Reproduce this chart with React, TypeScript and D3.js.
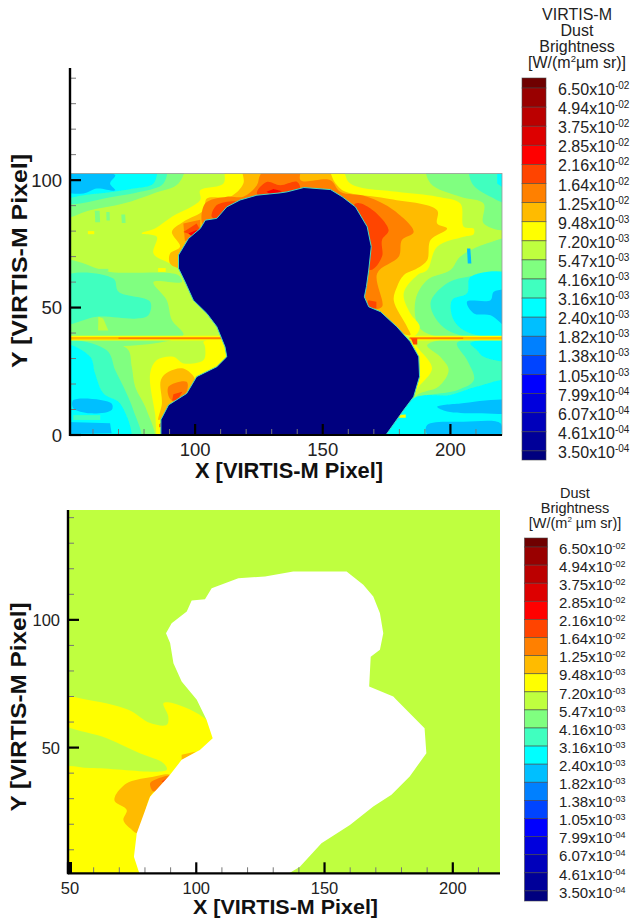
import * as d3 from "d3";

type Pt = [number, number];

const levelLabels = ["6.50", "4.94", "3.75", "2.85", "2.16", "1.64", "1.25", "9.48", "7.20", "5.47", "4.16", "3.16", "2.40", "1.82", "1.38", "1.05", "7.99", "6.07", "4.61", "3.50"];
const levelExps = ["-02", "-02", "-02", "-02", "-02", "-02", "-02", "-03", "-03", "-03", "-03", "-03", "-03", "-03", "-03", "-03", "-04", "-04", "-04", "-04"];
const bandColors = ["#6f0000", "#990000", "#bb0000", "#dd0000", "#ff0000", "#ff4400", "#ff8000", "#ffbb00", "#ffff00", "#bfff3f", "#80ff80", "#40ffbf", "#00ffff", "#00bfff", "#0080ff", "#0044ff", "#0000ff", "#0000dd", "#0000bb", "#000099", "#00007f"];

// contour regions, painted in this order, in VIRTIS-M pixel units
const topLightGreen: Pt[][] = [
  [[48, 106], [95.4, 106], [93.5, 98.7], [83.7, 94.8], [71.9, 90.8], [58.9, 88.2], [48, 85.6]],
  [[48, 68], [66.7, 64], [93.5, 62.7], [94.8, 60], [83.7, 60], [88.9, 52.9], [90.9, 45.1], [95.4, 39.2], [48, 38.6]],
  [[48, 36.6], [73.2, 34], [75.2, 26.8], [76.5, 19], [81, 9.8], [83.7, -3], [48, -3]],
  [[190.9, 106], [192.2, 98.7], [203.9, 93.5], [213, 90.8], [213, 83], [224, 81], [224, 106]],
  [[224, 76.5], [214.4, 75.2], [203.9, 70], [200, 64.7], [190.9, 60.8], [186.3, 52.9], [187.6, 42.5], [194.8, 38.6], [224, 38.6]],
  [[190.9, 35.3], [196, 30.7], [199.3, 25.5], [195.4, 19], [187, 15.7], [184.3, 11.1], [224, 11.1], [224, 36.6]],
  [[60.7, 88], [62.6, 88], [62.8, 83.5], [60.9, 83.5]],
  [[65.2, 87.5], [66.5, 87.5], [66.6, 84.2], [65.3, 84.2]],
  [[71.1, 86.5], [72.6, 86.5], [72.8, 83.2], [71.3, 83.2]],
  [[58, 65.2], [66, 65.2], [66, 64.2], [58, 64.2]],
];
const topGreenPatch: Pt[][] = [
  [[62.1, 46.4], [64, 45.7], [66, 41], [62, 41]],
];
const topMint: Pt[][] = [
  [[48, 106], [88.3, 106], [87.6, 98.7], [78.5, 95.4], [68, 93.5], [48, 91.5]],
  [[48, 62], [68, 61.4], [70, 56.2], [82.4, 52.3], [81.7, 47], [77.2, 45.7], [61.5, 46.4], [48, 43.8]],
  [[48, 36], [65.4, 33.3], [68.7, 25.5], [71.9, 19], [75.8, 9.8], [78.5, -3], [48, -3]],
  [[207.8, 106], [208.5, 98.7], [215.7, 93.5], [224, 90.8], [224, 106]],
  [[224, 62.7], [206.5, 62], [198.7, 59.5], [192.2, 51.6], [198.7, 41.2], [224, 39.2]],
  [[202.6, 36.2], [224, 36.2], [224, 11.1], [184.3, 11.1], [186.3, 14.4], [202.6, 17.6], [209.2, 21.6], [206.5, 29.4]],
];
const topCyan: Pt[][] = [
  [[48, 106], [84.3, 106], [83.7, 98.7], [75.8, 96.7], [68, 95.4], [56.3, 94.1], [48, 93.5]],
  [[218.3, 106], [224, 106], [224, 94.8], [218.3, 98.7]],
  [[224, 62.7], [207.8, 62], [206.5, 55.6], [200.6, 52.9], [201.3, 45], [207.8, 39.9], [224, 39.9]],
  [[48, 35.3], [58.9, 30.7], [60.8, 24.2], [64.1, 16.3], [70.6, 12.4], [74.5, -3], [48, -3]],
  [[207.8, 36], [224, 36.6], [224, 29.4], [213, 30.7], [210.4, 33.3]],
  [[224, 20.9], [210.4, 19], [200, 15.7], [185.6, 14.4], [173.9, -3], [224, -3]],
];
const topMintStrip: Pt[][] = [
  [[52.3, 7.8], [62.8, 7.8], [62.8, 5.9], [52.3, 5.9]],
];
const topSky: Pt[][] = [
  [[48, 102], [68.7, 102], [66.7, 98.7], [68.7, 96], [61.5, 96.7], [56.3, 94.8], [48, 96]],
  [[224, 56.2], [217, 56.2], [215.7, 52.9], [206.5, 52.3], [209.2, 47.7], [215.7, 47], [224, 41.2]],
  [[52.3, 13.7], [67.3, 12.4], [67.3, 9.8], [58.9, 8.5], [52.3, 10.5]],
  [[48, 5.2], [66.7, 4.6], [67.3, 0.7], [48, 0.4]],
  [[194.8, 11.1], [203.9, 12.4], [224, 13.1], [224, 9.2], [210.4, 8.5], [198.7, 9.2]],
  [[190.9, 3.9], [205.2, 5.2], [219.6, 4.6], [219.6, 0.4], [190.9, 0.4]],
  [[206.5, 73.2], [207.8, 73.2], [208.2, 67.3], [206.8, 67.3]],
];
const topYellow: Pt[][] = [
  [[90.2, 67.3], [83.7, 71.2], [85, 77.8], [79.1, 79.1], [84.3, 81], [90.9, 85.6], [102, 92.2], [102, 96], [111.1, 98.7], [112.4, 106], [156.3, 106], [160.8, 98.7], [179.1, 95.4], [194.8, 93.5], [203.9, 90.8], [205.2, 81.7], [209.1, 81], [209.1, 78.8], [205.2, 77.8], [194.8, 73.9], [190.9, 64.7], [187, 62.7], [181.7, 55.6], [184.3, 47.7], [188, 42.5], [185.4, 38.6], [170, 45], [130, 60], [95, 65]],
  [[86.3, -3], [84.3, 8.5], [82.4, 24.2], [85, 29.4], [91.5, 30.7], [95.4, 28.1], [103.3, 29.4], [103.9, 34.6], [103.3, 36.6], [109.8, 37.3], [113.7, 30.7], [100, 5]],
  [[184.3, 36.6], [188, 33.3], [192.8, 26.1], [187.6, 19], [185.6, 16.3], [175, 20]],
  [[179, 7.8], [182.5, 8], [182.5, 6.8], [179, 6.8]],
  [[58, 80], [60.5, 80], [60.5, 78.8], [58, 78.8]],
  [[85.5, 65.5], [88.5, 65.5], [88.5, 64], [85.5, 64]],
  [[48, 38.9], [113, 38.9], [113, 37.1], [48, 37.1]],
  [[184, 38.9], [224, 38.9], [224, 37.1], [184, 37.1]],
];
const topAmber: Pt[][] = [
  [[90.2, 67.3], [90.2, 71.2], [94.1, 73.9], [90.9, 79.7], [95.4, 83.7], [103.3, 88.2], [104.6, 92.8], [113.7, 93.5], [118.9, 98.7], [118.9, 106], [150.4, 106], [155, 98.7], [158.9, 95.4], [175, 92.8], [194.8, 88.2], [194.8, 83], [198.7, 81], [192.2, 76.5], [190.9, 68.6], [187, 65.4], [181.7, 62.7], [179.1, 58.2], [177.8, 52.9], [183, 42.5], [184.3, 39.2], [170, 45], [130, 60], [95, 65]],
  [[85.6, 5.9], [87, 12.4], [86.6, 21.6], [89.6, 24.8], [95.4, 26.1], [100, 21.6], [96.7, 16.3], [91.5, 12.4], [87.6, 7.2]],
  [[48, 38.5], [113, 38.5], [113, 37.5], [48, 37.5]],
  [[184, 38.5], [224, 38.5], [224, 37.5], [184, 37.5]],
];
const topOrange: Pt[][] = [
  [[103.3, 82], [103.9, 90.8], [112.4, 93.5], [118.9, 93.5], [124.2, 98], [125.5, 102], [130, 106], [141.3, 106], [141.3, 100], [153, 100], [156.9, 95.4], [167.4, 93.5], [177.8, 88.2], [185.6, 79.7], [181, 76.5], [179.8, 70], [171.3, 63.4], [173.2, 50.3], [168.7, 49.7], [150, 70], [115, 85]],
  [[95.4, 83], [102, 84.5], [102, 78], [96, 76]],
  [[89.6, 19], [96.7, 20.9], [96.7, 17], [92.2, 13], [90, 14.4]],
  [[70, 38.3], [112, 38.3], [112, 37.7], [70, 37.7]],
  [[184, 38.3], [205, 38.3], [205, 37.7], [184, 37.7]],
];
const topRedOrange: Pt[][] = [
  [[162.8, 90.8], [168.7, 88.9], [175.8, 80.4], [173.2, 76.5], [173.2, 70], [168.7, 64.7], [160, 75]],
  [[167.8, 52.9], [171, 52.3], [171, 49.7], [167, 49.7]],
  [[124.2, 94.8], [128, 99.3], [133.3, 98], [140, 99.3], [141, 96], [130, 92]],
  [[106.5, 85.6], [108.5, 90.2], [116.3, 91.5], [112.4, 88.2], [108.5, 85]],
  [[95.4, 79.7], [100.6, 83], [102, 80.4], [99.3, 78.4]],
  [[91.5, 16], [95, 17], [93, 13.5], [91, 13.5]],
  [[86, 4.2], [88, 6.2], [87.5, 3.3], [86, 3]],
  [[184.5, 38], [187, 38], [187, 35.5], [185.5, 35.5]],
];
const topRed: Pt[][] = [
  [[97.4, 79.1], [100.6, 80.4], [101.3, 78.8], [98.7, 78]],
  [[128, 95.4], [130.7, 96.5], [134, 95.6], [130, 94]],
];
const topNucleus: Pt[] = [[86.6, -3], [86.6, 6], [89.6, 11.8], [96.7, 16.3], [100.6, 22.9], [108.5, 26.8], [112.4, 30.7], [111.7, 34.6], [108.5, 42.5], [104.6, 47.7], [99.3, 52.9], [96.1, 60], [93.5, 65.4], [93.5, 70.6], [97.4, 77.1], [102, 81], [104, 84.3], [108.5, 85], [112.4, 89.5], [117.6, 92.2], [124.2, 94.1], [133.3, 95], [136, 95.4], [142.6, 97.1], [153, 96.3], [157.6, 93.5], [162.8, 89.5], [167.4, 81.7], [169, 73.9], [168, 64.7], [167.1, 58.2], [166.3, 54.2], [168, 50.3], [172.6, 48.4], [179, 42.5], [184.3, 36.6], [187.6, 30.7], [187.9, 22.9], [185.6, 15], [181.7, 9.8], [172.6, -3]];

const bottomYellow: Pt[][] = [
  [[47, 70], [56, 69], [73.5, 64.8], [82, 59.6], [88.5, 58.9], [89.1, 62.2], [87.2, 67.4], [91, 67.4], [104, 60.9], [108, 53.7], [95, 40], [80, -3], [47, -3], [47, 41.5], [58.6, 42], [88.5, 41.3], [87.2, 43.9], [78, 47.8], [65.1, 53.7], [47, 60.2]],
];
const bottomAmber: Pt[][] = [
  [[68.3, 30.8], [72.9, 36], [82, 38.4], [89.7, 39.3], [82, 30.8], [77.4, 16.5], [74.2, 18.4], [71.6, 21.7], [72.9, 25.6], [68.3, 28.9]],
  [[94.3, 47.2], [100, 48.5], [94.3, 45]],
];
const bottomOrange: Pt[][] = [
  [[82, 36], [83.9, 37.4], [89.7, 39], [87.2, 35.4], [83.3, 32.8]],
];
const bottomRedOrange: Pt[][] = [
  [[86.5, 36.7], [89.1, 38.4], [87.8, 36]],
];
const bottomNucleus: Pt[] = [[77.8, 0.8], [75.7, 7.3], [76.8, 16.5], [82, 30.8], [89.7, 39.3], [94.3, 45.2], [101.4, 49.1], [106.4, 53.7], [104, 60.9], [100.2, 68.7], [94.3, 75.9], [91.1, 83], [89.8, 90.9], [88.2, 94.8], [90.4, 98.7], [96.3, 103.3], [98.2, 107.6], [103.4, 108.1], [106, 112.4], [116.4, 116.3], [126.8, 117], [137.8, 118.9], [158.6, 118.9], [165.1, 113.7], [169, 109.1], [171.6, 102.6], [172.9, 94.8], [171.6, 88.3], [168, 85.6], [167.4, 73.9], [176.8, 70], [178, 68.7], [189, 57.6], [189.7, 47.8], [183.2, 38.7], [176.1, 31.5], [169, 26.9], [159.9, 19.7], [148.8, 12.6], [140.4, 3.4], [136.2, 0.8]];

const topLayers: [string, Pt[][]][] = [
  ["#80ff80", topLightGreen], ["#bfff3f", topGreenPatch], ["#40ffbf", topMint], ["#00ffff", topCyan],
  ["#40ffbf", topMintStrip], ["#00bfff", topSky], ["#ffff00", topYellow], ["#ffbb00", topAmber],
  ["#ff8000", topOrange], ["#ff4400", topRedOrange], ["#ff0000", topRed],
];
const bottomLayers: [string, Pt[][]][] = [
  ["#ffff00", bottomYellow], ["#ffbb00", bottomAmber], ["#ff8000", bottomOrange], ["#ff4400", bottomRedOrange],
];

const FONT = "'Liberation Sans', Arial, sans-serif";

function Contours(props: any) {
  const { id, x, y, xDomain, yDomain, base, layers, nucleus, nucleusFill, nucleusStroke, nucleusSmooth } = props;
  const straight = d3.line<Pt>().x((d) => x(d[0])).y((d) => y(d[1]));
  const smooth = d3.line<Pt>().x((d) => x(d[0])).y((d) => y(d[1])).curve(d3.curveCatmullRomClosed.alpha(0.5));
  const regionPath = (r: Pt[]) => (r.length > 4 ? smooth(r) : straight(r) + "Z");
  const x0 = x(xDomain[0]);
  const x1 = x(xDomain[1]);
  const y0 = y(yDomain[1]);
  const y1 = y(yDomain[0]);
  return (
    <g>
      <filter id={`${id}-soft`}>
        <feGaussianBlur stdDeviation={0.5} />
      </filter>
      <clipPath id={id}>
        <rect x={x0} y={y0} width={x1 - x0} height={y1 - y0} />
      </clipPath>
      <g clipPath={`url(#${id})`}>
        <rect x={x0} y={y0} width={x1 - x0} height={y1 - y0} fill={base} />
        <g filter={`url(#${id}-soft)`}>
          {layers.map(([color, regions]: [string, Pt[][]], i: number) =>
            regions.map((r, j) => <path key={`${i}-${j}`} d={regionPath(r) as string} fill={color} />)
          )}
        </g>
        <path d={nucleusSmooth ? (smooth(nucleus) as string) : straight(nucleus) + "Z"} fill={nucleusFill} stroke={nucleusStroke} strokeWidth={nucleusStroke === "none" ? 0 : 1} />
      </g>
    </g>
  );
}

function Axes(props: any) {
  const { x, y, xDomain, xMajor, yMajor, xMinor, yMinor, fs, xLabelY, yLabelX, xTitle, yTitle, major, minor } = props;
  const bx = x(xDomain[0]);
  const by = y.range()[0];
  return (
    <g fontFamily={FONT}>
      {xMinor.map((t: number) => <line key={t} x1={x(t)} x2={x(t)} y1={by} y2={by - minor} stroke="#777" strokeWidth={1} />)}
      {yMinor.map((t: number) => <line key={t} x1={bx} x2={bx + minor} y1={y(t)} y2={y(t)} stroke="#777" strokeWidth={1} />)}
      {xMajor.map((t: number) => <line key={t} x1={x(t)} x2={x(t)} y1={by} y2={by - major} stroke="#000" strokeWidth={2.2} />)}
      {yMajor.map((t: number) => <line key={t} x1={bx} x2={bx + major} y1={y(t)} y2={y(t)} stroke="#000" strokeWidth={2.2} />)}
      <line x1={bx} x2={bx} y1={y.range()[1]} y2={by + 1} stroke="#000" strokeWidth={2.4} />
      <line x1={bx} x2={x.range()[1]} y1={by} y2={by} stroke="#000" strokeWidth={2.2} />
      {xMajor.map((t: number) => <text key={t} x={x(t) + (t === 50 ? 2 : 0)} y={xLabelY} fontSize={fs} textAnchor="middle" fill="#222">{t}</text>)}
      {yMajor.map((t: number) => <text key={t} x={yLabelX} y={y(t) + fs * 0.36} fontSize={fs} textAnchor="end" fill="#222">{t}</text>)}
      <text x={xTitle[0]} y={xTitle[1]} fontSize={xTitle[2]} fontWeight="bold" textAnchor="middle" fill="#111" textLength={xTitle[3]} lengthAdjust="spacingAndGlyphs">X [VIRTIS-M Pixel]</text>
      <text transform={`translate(${yTitle[0]},${yTitle[1]}) rotate(-90)`} fontSize={yTitle[2]} fontWeight="bold" textAnchor="middle" fill="#111" textLength={yTitle[3]} lengthAdjust="spacingAndGlyphs">Y [VIRTIS-M Pixel]</text>
    </g>
  );
}

function Legend(props: any) {
  const { x, w, top, first, step, end, labelX, fs, supFs, supDy } = props;
  const bandY = d3.scaleLinear().domain([0, 19]).range([first, first + 19 * step]);
  return (
    <g fontFamily={FONT}>
      {bandColors.map((c, i) => {
        const y0 = i === 0 ? top : bandY(i - 1);
        const y1 = i === 20 ? end : bandY(i);
        return <rect key={c} x={x} y={y0} width={w} height={y1 - y0} fill={c} stroke="#444" strokeOpacity={0.7} strokeWidth={0.8} />;
      })}
      {levelLabels.map((l, i) => (
        <text key={l} x={labelX} y={bandY(i) + fs * 0.38 + 1} fontSize={fs} fill="#222">
          {l}x10<tspan dy={-supDy} fontSize={supFs}>{levelExps[i]}</tspan>
        </text>
      ))}
    </g>
  );
}

export default function App() {
  const topX = d3.scaleLinear().domain([51, 220.2]).range([70, 502]);
  const topY = d3.scaleLinear().domain([0, 144]).range([435, 68]);
  const botX = d3.scaleLinear().domain([50, 218.4]).range([68, 500]);
  const botY = d3.scaleLinear().domain([0.8, 143]).range([873.3, 510]);
  const tens = (a: number, b: number) => d3.range(a, b + 1, 10);

  return (
    <svg width={630} height={921} style={{ position: "absolute", left: 0, top: 0, background: "#fff" }}>
      <Contours id="c1" x={topX} y={topY} xDomain={[51, 220.2]} yDomain={[0, 102.6]} base="#bfff3f" layers={topLayers} nucleus={topNucleus} nucleusFill="#00007f" nucleusStroke="#46d8c0" nucleusSmooth={false} />
      <rect x={70} y={topY(102.6)} width={432} height={topY(0) - topY(102.6)} fill="none" stroke="#999" strokeWidth={0.8} />
      <Axes x={topX} y={topY} xDomain={[51]} xMajor={[100, 150, 200]} yMajor={[0, 50, 100]} xMinor={tens(60, 210)} yMinor={tens(10, 140)} major={11} minor={6} fs={18.5} xLabelY={456} yLabelX={62} xTitle={[289, 478, 21.5, 188]} yTitle={[27, 261, 22, 214]} />

      <Contours id="c2" x={botX} y={botY} xDomain={[50, 218.4]} yDomain={[0.8, 143]} base="#bfff3f" layers={bottomLayers} nucleus={bottomNucleus} nucleusFill="#ffffff" nucleusStroke="none" nucleusSmooth={false} />
      <Axes x={botX} y={botY} xDomain={[50]} xMajor={[50, 100, 150, 200]} yMajor={[50, 100]} xMinor={tens(60, 210)} yMinor={tens(10, 140)} major={11} minor={6} fs={16.5} xLabelY={894} yLabelX={60} xTitle={[285.5, 914, 21, 185]} yTitle={[26, 707, 21.5, 209]} />
      <rect x={68} y={862} width={4} height={11} fill="#000" />

      <g fontFamily={FONT} fontSize={16} textAnchor="middle" fill="#222">
        <text x={577} y={20}>VIRTIS-M</text>
        <text x={577} y={36}>Dust</text>
        <text x={577} y={52}>Brightness</text>
        <text x={577} y={68}>[W/(m<tspan dy={-6} fontSize={9.5}>2</tspan><tspan dy={6}>µm sr)]</tspan></text>
      </g>
      <Legend x={522} w={24} top={78} first={88} step={19.1} end={460} labelX={558} fs={16} supFs={10} supDy={6} />

      <g fontFamily={FONT} fontSize={14.5} textAnchor="middle" fill="#222">
        <text x={575} y={498}>Dust</text>
        <text x={575} y={513}>Brightness</text>
        <text x={575} y={528}>[W/(m<tspan dy={-6} fontSize={8}>2</tspan><tspan dy={6}> µm sr)]</tspan></text>
      </g>
      <Legend x={524.5} w={23} top={538} first={547} step={18.1} end={901} labelX={559} fs={15} supFs={9} supDy={5} />
    </svg>
  );
}
